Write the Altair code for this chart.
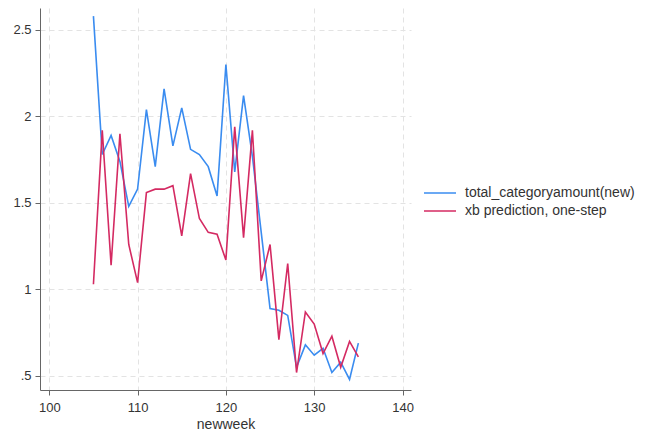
import altair as alt
import pandas as pd

weeks = list(range(105, 136))
actual = [2.58, 1.78, 1.89, 1.74, 1.48, 1.58, 2.04, 1.71, 2.16, 1.83, 2.05, 1.81,
          1.78, 1.71, 1.54, 2.30, 1.68, 2.12, 1.77, 1.33, 0.89, 0.88, 0.85, 0.55,
          0.68, 0.62, 0.66, 0.52, 0.58, 0.48, 0.69]
predicted = [1.03, 1.92, 1.14, 1.90, 1.26, 1.04, 1.56, 1.58, 1.58, 1.60, 1.31, 1.67,
             1.41, 1.33, 1.32, 1.17, 1.94, 1.30, 1.92, 1.05, 1.26, 0.71, 1.15, 0.52,
             0.87, 0.80, 0.63, 0.73, 0.55, 0.70, 0.61]
series_names = ["total_categoryamount(new)", "xb prediction, one-step"]
series_colors = ["#3a8cf0", "#d42a62"]
x_ticks = [100, 110, 120, 130, 140]
y_ticks = [0.5, 1, 1.5, 2, 2.5]

df = pd.concat([
    pd.DataFrame({"newweek": weeks, "value": actual, "series": series_names[0]}),
    pd.DataFrame({"newweek": weeks, "value": predicted, "series": series_names[1]}),
])

font = "Liberation Sans"

chart = alt.Chart(df).mark_line(strokeWidth=1.6).encode(
    x=alt.X("newweek:Q",
            scale=alt.Scale(domain=[98.95, 140.96], nice=False, zero=False),
            axis=alt.Axis(values=x_ticks, title="newweek", format="d",
                          grid=True, gridDash=[5, 4], gridColor="#e3e3e3",
                          domainColor="#666", tickColor="#666", tickSize=5,
                          labelFont=font, labelFontSize=13, labelColor="#333",
                          labelPadding=6, titleFont=font, titleFontSize=14,
                          titleFontWeight="normal", titleColor="#333",
                          titlePadding=3)),
    y=alt.Y("value:Q",
            scale=alt.Scale(domain=[0.419, 2.627], nice=False, zero=False),
            axis=alt.Axis(values=y_ticks, title=None, format=".1~f",
                          labelExpr="datum.value < 1 ? '.5' : datum.label",
                          grid=True, gridDash=[5, 4], gridColor="#e3e3e3",
                          domainColor="#666", tickColor="#666", tickSize=5,
                          labelFont=font, labelFontSize=13, labelColor="#333",
                          labelPadding=4)),
    color=alt.Color("series:N",
                    scale=alt.Scale(domain=series_names, range=series_colors),
                    legend=alt.Legend(title=None, orient="none", legendX=395,
                                      legendY=174, symbolType="M-2.2,0H1",
                                      symbolSize=400, symbolStrokeWidth=1.5,
                                      labelFont=font, labelFontSize=14,
                                      labelColor="#333", labelOffset=8,
                                      rowPadding=0, labelLimit=300)),
).properties(
    width=371, height=382,
    autosize=alt.AutoSizeParams(type="none"),
    padding={"left": 32, "top": 0, "right": 230, "bottom": 42},
).configure(background="white").configure_view(stroke="transparent", strokeWidth=0)

chart.save("out.html", embed_options={"renderer": "svg", "actions": False})
